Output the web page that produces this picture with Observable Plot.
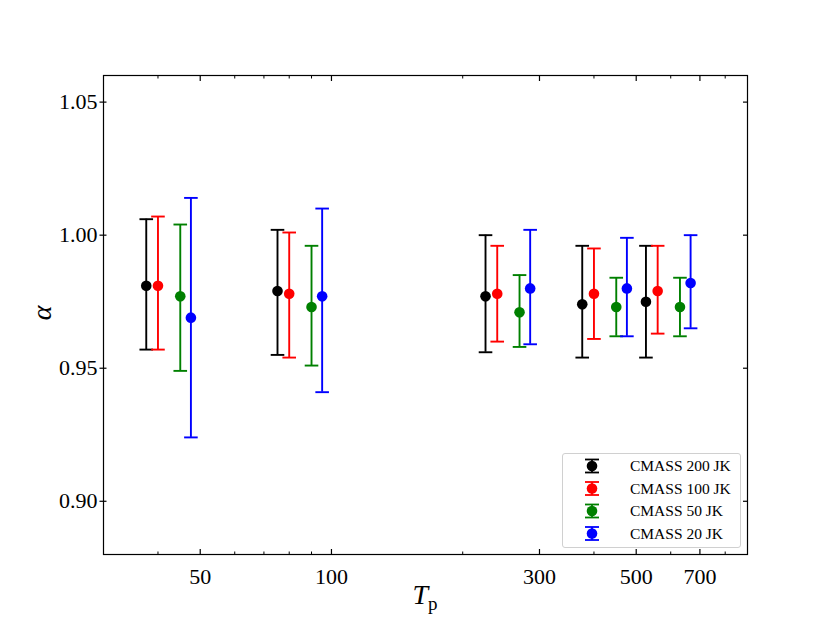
<!DOCTYPE html>
<html><head><meta charset="utf-8">
<script src="https://cdn.jsdelivr.net/npm/d3@7"></script>
<script src="https://cdn.jsdelivr.net/npm/@observablehq/plot@0.6"></script>
<style>
html,body{margin:0;padding:0;background:#fff;}
#wrap{position:relative;width:830px;height:623px;font-family:"Liberation Serif",serif;}
#legend{position:absolute;left:562px;top:453px;width:177px;height:93px;border:1px solid #d0d0d0;border-radius:3px;background:rgba(255,255,255,0.8);}
</style>
</head><body>
<div id="wrap"><div id="plot"></div><div id="legend"></div></div>
<script>
// Data
const tpValues = [40, 80, 240, 400, 560];
const seriesNames = ["CMASS 200 JK", "CMASS 100 JK", "CMASS 50 JK", "CMASS 20 JK"];
const alpha200 = [0.981, 0.979, 0.977, 0.974, 0.975];
const lo200    = [0.957, 0.955, 0.956, 0.954, 0.954];
const hi200    = [1.006, 1.002, 1.000, 0.996, 0.996];
const alpha100 = [0.981, 0.978, 0.978, 0.978, 0.979];
const lo100    = [0.957, 0.954, 0.960, 0.961, 0.963];
const hi100    = [1.007, 1.001, 0.996, 0.995, 0.996];
const alpha50  = [0.977, 0.973, 0.971, 0.973, 0.973];
const lo50     = [0.949, 0.951, 0.958, 0.962, 0.962];
const hi50     = [1.004, 0.996, 0.985, 0.984, 0.984];
const alpha20  = [0.969, 0.977, 0.980, 0.980, 0.982];
const lo20     = [0.924, 0.941, 0.959, 0.962, 0.965];
const hi20     = [1.014, 1.010, 1.002, 0.999, 1.000];
const xMajorTicks = [50, 100, 300, 500, 700];
const xMinorTicks = [40, 60, 70, 80, 90, 200, 400, 600, 800];
const yTicks = [0.90, 0.95, 1.00, 1.05];

// styling (not data)
const FONT = "Liberation Serif";
const colors = ["black", "#ff0000", "#008000", "#0000ff"];
const dodge = [0.94, 1.0, 1.125, 1.19];
const seriesVals = [[alpha200, lo200, hi200], [alpha100, lo100, hi100], [alpha50, lo50, hi50], [alpha20, lo20, hi20]];

const capSymbol = {draw(ctx, size) { const w = Math.sqrt(size / Math.PI); ctx.moveTo(-w, 0); ctx.lineTo(w, 0); }};

const marks = [];
seriesVals.forEach(([a, lo, hi], s) => {
  const rows = tpValues.map((t, i) => ({x: t * dodge[s], y: a[i], lo: lo[i], hi: hi[i]}));
  marks.push(Plot.ruleX(rows, {x: "x", y1: "lo", y2: "hi", stroke: colors[s], strokeWidth: 1.9}));
  marks.push(Plot.dot(rows, {x: "x", y: "lo", symbol: capSymbol, r: 6.8, stroke: colors[s], strokeWidth: 1.9, fill: "none"}));
  marks.push(Plot.dot(rows, {x: "x", y: "hi", symbol: capSymbol, r: 6.8, stroke: colors[s], strokeWidth: 1.9, fill: "none"}));
  marks.push(Plot.dot(rows, {x: "x", y: "y", r: 5.3, fill: colors[s], stroke: "none"}));
});

const fmtY = d => d.toFixed(2);
const chart = Plot.plot({
  width: 830, height: 623,
  marginLeft: 103, marginRight: 83, marginTop: 75, marginBottom: 69,
  style: {fontFamily: FONT, background: "white", color: "black"},
  x: {type: "log", domain: [30, 900]},
  y: {domain: [0.88, 1.06]},
  marks: [
    // tick labels
    Plot.text(xMajorTicks, {x: d => d, frameAnchor: "bottom", dy: 29, text: d => String(d), fontSize: 22, fontFamily: FONT, fill: "black"}),
    Plot.text(yTicks, {y: d => d, frameAnchor: "left", dx: -6, textAnchor: "end", text: fmtY, fontSize: 22, fontFamily: FONT, fill: "black"}),
    // bottom inward ticks
    Plot.axisX({anchor: "bottom", ticks: xMajorTicks, tickSize: -5, tickFormat: () => "", label: null, strokeWidth: 1.2}),
    Plot.axisX({anchor: "bottom", ticks: xMinorTicks, tickSize: -2.5, tickFormat: () => "", label: null, strokeWidth: 1}),
    // top inward ticks
    Plot.axisX({anchor: "top", ticks: xMajorTicks, tickSize: -5, tickFormat: () => "", label: null, strokeWidth: 1.2}),
    Plot.axisX({anchor: "top", ticks: xMinorTicks, tickSize: -2.5, tickFormat: () => "", label: null, strokeWidth: 1}),
    // left in/out ticks
    Plot.axisY({anchor: "left", ticks: yTicks, tickSize: 3.5, tickFormat: () => "", label: null, strokeWidth: 1.2}),
    Plot.axisY({anchor: "left", ticks: yTicks, tickSize: -3.5, tickFormat: () => "", label: null, strokeWidth: 1.2}),
    // right inward ticks
    Plot.axisY({anchor: "right", ticks: yTicks, tickSize: -5, tickFormat: () => "", label: null, strokeWidth: 1.2}),
    Plot.frame({stroke: "black", strokeWidth: 1.2}),
    ...marks
  ]
});
document.getElementById("plot").appendChild(chart);

// axis titles
const svg = d3.select(chart.tagName.toLowerCase() === "svg" ? chart : chart.querySelector("svg"));
svg.append("text").attr("x", 41).attr("y", 313).attr("transform", "rotate(-90,41,313)")
  .attr("text-anchor", "middle").attr("dy", "0.35em")
  .style("font-family", FONT).style("font-style", "italic").style("font-size", "28px").text("α");
const xl = svg.append("text").attr("x", 425).attr("y", 604).attr("text-anchor", "middle")
  .style("font-family", FONT).style("font-size", "28px");
xl.append("tspan").style("font-style", "italic").text("T");
xl.append("tspan").attr("dy", 6).style("font-size", "19px").text("p");

// legend
const lg = d3.select("#legend").append("svg").attr("width", 177).attr("height", 93);
seriesNames.forEach((name, i) => {
  const cy = 12 + i * 22.5, cx = 29;
  const g = lg.append("g").attr("stroke", colors[i]).attr("stroke-width", 1.8);
  g.append("line").attr("x1", cx).attr("x2", cx).attr("y1", cy - 6.5).attr("y2", cy + 6.5);
  g.append("line").attr("x1", cx - 7).attr("x2", cx + 7).attr("y1", cy - 6.5).attr("y2", cy - 6.5);
  g.append("line").attr("x1", cx - 7).attr("x2", cx + 7).attr("y1", cy + 6.5).attr("y2", cy + 6.5);
  lg.append("circle").attr("cx", cx).attr("cy", cy).attr("r", 5.3).attr("fill", colors[i]);
  lg.append("text").attr("x", 67).attr("y", cy).attr("dy", "0.35em")
    .style("font-family", FONT).style("font-size", "15.5px").text(name);
});
</script>
</body></html>
